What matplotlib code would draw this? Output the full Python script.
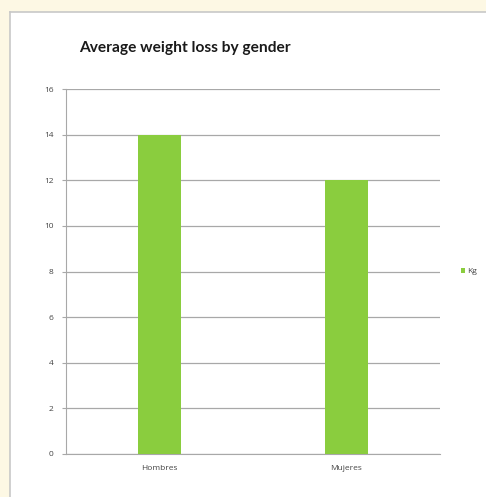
import matplotlib
matplotlib.use("Agg")
import matplotlib.pyplot as plt

categories = ["Hombres", "Mujeres"]
values = [14, 12]
series_name = "Kg"
yticks = [0, 2, 4, 6, 8, 10, 12, 14, 16]

green = "#8acd3e"
grid_c = "#a8a8a8"

fig = plt.figure(figsize=(4.86, 4.97), dpi=100)
fig.patch.set_facecolor("#fdf8e4")
# white panel as background axes (extends past the bottom/right edge)
bg = fig.add_axes([10/486, -0.05, 1.0, 1.05 - 12/497], zorder=-1)
bg.set_facecolor("white")
bg.set_xticks([]); bg.set_yticks([])
for s in bg.spines.values():
    s.set_color("#c8c8c8")
    s.set_linewidth(1.2)

ax = fig.add_axes([66/486, 1-454/497, (440-66)/486, (454-89)/497])
ax.set_facecolor("none")
x = range(len(categories))
ax.bar(x, values, width=0.23, color=green, label=series_name, zorder=3)
ax.set_xlim(-0.5, len(categories)-0.5)
ax.set_ylim(0, 16)
ax.set_yticks(yticks)
ax.set_xticks(list(x))
ax.set_xticklabels(categories)
ax.yaxis.grid(True, color=grid_c, linewidth=0.9, zorder=0)
ax.set_axisbelow(True)
for s in ["top", "right"]:
    ax.spines[s].set_visible(False)
ax.spines["left"].set_color(grid_c)
ax.spines["bottom"].set_color(grid_c)
ax.tick_params(axis="y", length=3, color=grid_c, labelsize=6, labelcolor="#444444", pad=6)
ax.tick_params(axis="x", length=0, labelsize=6, labelcolor="#444444", pad=8)
for lbl in ax.get_xticklabels() + ax.get_yticklabels():
    lbl.set_family("Open Sans")

fig.text(79/486, 1-48/497, "Average weight loss by gender", fontsize=11.2, fontweight="bold",
         family="Lato", color="#1a1a1a", va="center", ha="left")

leg = ax.legend(loc="center left", bbox_to_anchor=(1.035, 0.5), frameon=False,
                fontsize=6, handlelength=0.5, handleheight=0.6, handletextpad=0.3)
for t in leg.get_texts():
    t.set_color("#444444")
    t.set_family("Open Sans")

fig.savefig("out.png", dpi=100, facecolor=fig.get_facecolor())
